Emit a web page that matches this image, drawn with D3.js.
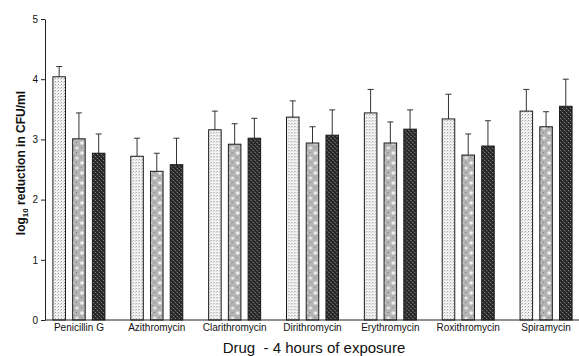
<!DOCTYPE html>
<html>
<head>
<meta charset="utf-8">
<script src="https://cdn.jsdelivr.net/npm/d3@7"></script>
<style>
  body { margin: 0; background: #fff; }
  text { font-family: "Liberation Sans", Arial, sans-serif; fill: #111; }
</style>
</head>
<body>
<div id="chart"></div>
<script>
// drugs on the x axis
const drugs = ['Penicillin G', 'Azithromycin', 'Clarithromycin', 'Dirithromycin',
  'Erythromycin', 'Roxithromycin', 'Spiramycin'];
const seriesKeys = ['s1', 's2', 's3'];

// log10 reduction, one array per bar pattern
const s1Values = [4.04, 2.72, 3.16, 3.37, 3.44, 3.34, 3.47];
const s2Values = [3.01, 2.47, 2.92, 2.94, 2.94, 2.74, 3.21];
const s3Values = [2.77, 2.58, 3.02, 3.07, 3.17, 2.89, 3.55];

// upper error bar (SD)
const s1Err = [0.17, 0.30, 0.31, 0.27, 0.39, 0.41, 0.36];
const s2Err = [0.43, 0.30, 0.34, 0.27, 0.35, 0.35, 0.25];
const s3Err = [0.32, 0.44, 0.33, 0.42, 0.32, 0.42, 0.45];

const yTicks = [0, 1, 2, 3, 4, 5];

const width = 579;
const height = 356;
const margin = {top: 19, right: 0, bottom: 36, left: 45};
const plotBottom = height - margin.bottom;   // 320

const svg = d3.select('#chart')
    .append('svg')
    .attr('width', width)
    .attr('height', height);

// fill patterns for the three bars
const defs = svg.append('defs');

const p1 = defs.append('pattern')
    .attr('id', 'pat1')
    .attr('patternUnits', 'userSpaceOnUse')
    .attr('width', 3).attr('height', 3);
p1.append('rect').attr('width', 3).attr('height', 3).attr('fill', '#f4f4f4');
p1.append('rect').attr('x', 0).attr('y', 0).attr('width', 1).attr('height', 1).attr('fill', '#9a9a9a');
p1.append('rect').attr('x', 2).attr('y', 1).attr('width', 1).attr('height', 1).attr('fill', '#c8c8c8');

const p2 = defs.append('pattern')
    .attr('id', 'pat2')
    .attr('patternUnits', 'userSpaceOnUse')
    .attr('width', 10).attr('height', 10);
p2.append('rect').attr('width', 10).attr('height', 10).attr('fill', '#b4b4b4');
p2.append('circle').attr('cx', 3).attr('cy', 3).attr('r', 1.8).attr('fill', '#f2f2f2');
p2.append('circle').attr('cx', 8).attr('cy', 8).attr('r', 1.6).attr('fill', '#ececec');
p2.append('rect').attr('x', 7).attr('y', 2).attr('width', 1).attr('height', 1).attr('fill', '#777');
p2.append('rect').attr('x', 2).attr('y', 7).attr('width', 1).attr('height', 1).attr('fill', '#808080');
p2.append('rect').attr('x', 5).attr('y', 5).attr('width', 1).attr('height', 1).attr('fill', '#8a8a8a');

const p3 = defs.append('pattern')
    .attr('id', 'pat3')
    .attr('patternUnits', 'userSpaceOnUse')
    .attr('width', 4).attr('height', 4);
p3.append('rect').attr('width', 4).attr('height', 4).attr('fill', '#262626');
p3.append('rect').attr('x', 0).attr('y', 0).attr('width', 1).attr('height', 1).attr('fill', '#8a8a8a');
p3.append('rect').attr('x', 2).attr('y', 2).attr('width', 1).attr('height', 1).attr('fill', '#8a8a8a');
p3.append('rect').attr('x', 1).attr('y', 1).attr('width', 1).attr('height', 1).attr('fill', '#4a4a4a');
p3.append('rect').attr('x', 3).attr('y', 3).attr('width', 1).attr('height', 1).attr('fill', '#4a4a4a');

const fills = {s1: 'url(#pat1)', s2: 'url(#pat2)', s3: 'url(#pat3)'};

// scales
const yScale = d3.scaleLinear()
    .domain([0, 5])
    .range([plotBottom, margin.top]);

const x0 = d3.scaleBand()
    .domain(drugs)
    .range([40, 585])
    .padding(0);

const x1 = d3.scaleBand()
    .domain(seriesKeys)
    .range([-26, 26])
    .paddingInner(0.365)
    .paddingOuter(0);

const data = drugs.map((d, i) => ({
  drug: d,
  bars: [
    {key: 's1', value: s1Values[i], err: s1Err[i]},
    {key: 's2', value: s2Values[i], err: s2Err[i]},
    {key: 's3', value: s3Values[i], err: s3Err[i]}
  ]
}));

// y axis
svg.append('g')
    .attr('transform', 'translate(' + margin.left + ',0)')
    .call(d3.axisLeft(yScale).tickValues(yTicks).tickFormat(d3.format('d'))
        .tickSize(4).tickSizeOuter(0).tickPadding(3))
    .call(g => g.select('.domain').attr('stroke', '#222'))
    .call(g => g.selectAll('.tick line').attr('stroke', '#222'))
    .call(g => g.selectAll('text').style('font-size', '10px'));

// groups
const groups = svg.selectAll('.grp')
    .data(data)
    .enter()
    .append('g')
    .attr('class', 'grp')
    .attr('transform', d => 'translate(' + (x0(d.drug) + x0.bandwidth() / 2) + ',0)');

// error bars (behind the bars)
groups.selectAll('.err')
    .data(d => d.bars)
    .enter()
    .append('path')
    .attr('class', 'err')
    .attr('fill', 'none')
    .attr('stroke', '#333')
    .attr('stroke-width', 1)
    .attr('d', d => {
      const cx = x1(d.key) + x1.bandwidth() / 2;
      const yt = yScale(d.value + d.err);
      return 'M' + cx + ',' + yScale(d.value) + 'V' + yt + 'M' + (cx - 3) + ',' + yt + 'H' + (cx + 3);
    });

groups.selectAll('.bar')
    .data(d => d.bars)
    .enter()
    .append('rect')
    .attr('class', 'bar')
    .attr('x', d => x1(d.key))
    .attr('width', x1.bandwidth())
    .attr('y', d => yScale(d.value))
    .attr('height', d => yScale(0) - yScale(d.value))
    .attr('fill', d => fills[d.key])
    .attr('stroke', '#1a1a1a')
    .attr('stroke-width', 1);

// x axis
svg.append('g')
    .attr('transform', 'translate(0,' + plotBottom + ')')
    .call(d3.axisBottom(x0).tickSize(0).tickPadding(4))
    .call(g => g.select('.domain').remove())
    .call(g => g.selectAll('text').style('font-size', '10px'));

svg.append('line')
    .attr('x1', margin.left)
    .attr('x2', width)
    .attr('y1', plotBottom)
    .attr('y2', plotBottom)
    .attr('stroke', '#222');

// x axis title
svg.append('text')
    .attr('x', 314)
    .attr('y', 353)
    .attr('text-anchor', 'middle')
    .style('font-size', '15px')
    .style('white-space', 'pre')
    .text('Drug  - 4 hours of exposure');

// y axis title
const yTitle = svg.append('text')
    .attr('transform', 'translate(25,' + 163 + ') rotate(-90)')
    .attr('text-anchor', 'middle')
    .style('font-size', '12px')
    .style('font-weight', 'bold');
yTitle.append('tspan').text('log');
yTitle.append('tspan').attr('dy', 3).style('font-size', '8px').text('10');
yTitle.append('tspan').attr('dy', -3).text(' reduction in CFU/ml');
</script>
</body>
</html>
